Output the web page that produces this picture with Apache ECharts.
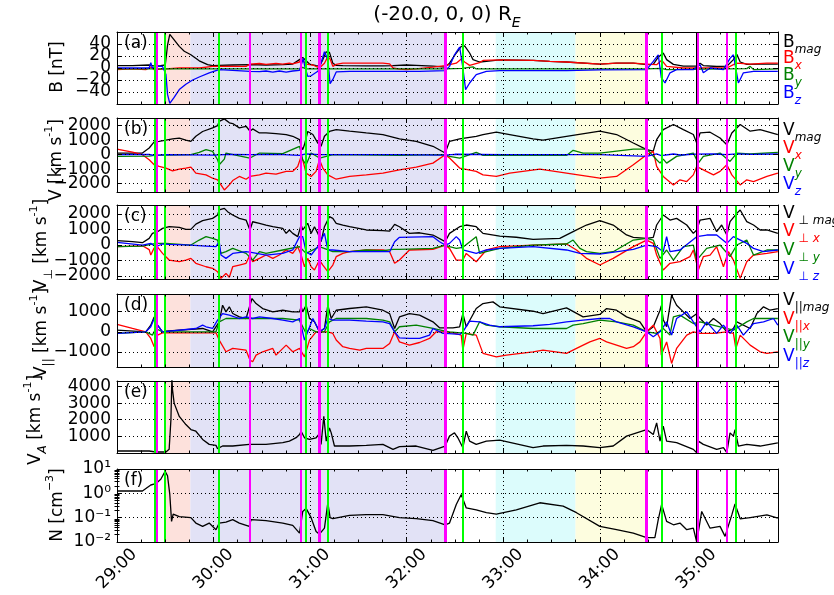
<!DOCTYPE html>
<html><head><meta charset="utf-8">
<script src="https://cdn.jsdelivr.net/npm/echarts@6/dist/echarts.min.js"></script>
<style>html,body{margin:0;padding:0;background:#fff}#c{width:834px;height:595px}</style>
</head><body><div id="c"></div>
<script>
// ---------- DATA (time = seconds after 29:00) ----------
const xMin = 0, xMax = 410.7;
const tickLabels = ['29:00','30:00','31:00','32:00','33:00','34:00','35:00'];

const greenLines = [23.5, 29.9, 63.5, 117.5, 131.2, 214.6, 338.2, 384.5];
const magentaLines = [25.0, 82.7, 114.2, 360.9, 378.9];
const magentaThick = [125.8, 204.0, 329.1];
const blackLines = [360];
const pinkSpan = [29.9, 45.6];
const lavenderSpan = [45.6, 204.0];
const cyanSpan = [235.3, 284.9];
const yellowSpan = [284.9, 329.1];

// (a) B [nT]
const bMag = [[0,4],[9.6,4],[20,5],[21,6],[22,4],[23.5,3],[27,4],[30,5],[31.4,38],[32.8,56],[34.9,49],[38.7,36],[41.8,28],[45.9,22],[51.1,12],[56.3,5.5],[59.4,4],[63.5,4.4],[71.9,5],[82.6,5.5],[92.6,5],[103,5.5],[109.2,6.6],[113.4,14],[115.4,17.5],[117.5,12],[119.6,6.6],[123.7,4],[125.8,3],[127.9,14],[130,27],[132,26],[134.1,8],[136.2,4.4],[140.3,4],[154.9,3.5],[165.2,3.5],[171.5,4],[179.8,5],[185.9,4.4],[196.3,3],[203.9,1.6],[206.6,8],[210.8,25],[213.9,36],[216,37],[219.1,25],[221.2,14],[225.3,10],[229.5,11],[237.8,13.7],[258.5,12.6],[268.9,11],[279.3,10],[300,6.6],[310.4,8],[320.8,8],[329.1,5.5],[333.2,6],[336.3,18],[339.4,25],[341.5,14],[345.7,6],[351.9,3],[360,3],[362.3,8],[364.3,4],[372.6,2.5],[378.9,3],[383,14],[385.1,23],[387.2,10],[391.3,6],[399.6,6.6],[410.6,6.6]];
const bx = [[0,-2.7],[9.6,-1.6],[17.9,-2.7],[21,1.6],[23.1,-2.7],[30.4,-1.6],[38.7,0],[51.1,0],[59.4,2.7],[71.9,2.7],[80.2,2.7],[82.6,6.6],[88.5,7.5],[92.6,6],[98.8,7.7],[103,6.6],[107.1,8],[109.2,7],[113.4,10],[114.4,16],[115.4,12],[117.5,6.6],[121.7,5],[125.8,0],[128.9,8],[131,19],[132.4,15],[134.1,2.7],[136.2,6],[140.3,8],[154.9,8],[165.2,8],[169.4,7],[171.5,0],[175.6,-2],[179.8,-2.7],[185.9,-1.6],[196.3,1.6],[203.9,4],[210.8,8],[213.9,15],[216,10],[219.1,4.4],[225.3,9],[227.4,12.6],[237.8,13.7],[258.5,12.6],[268.9,11],[279.3,10],[300,6.6],[310.4,8],[320.8,8],[329.1,6.6],[335.3,5.5],[338.4,13],[341.5,2.7],[351.9,0],[362.3,0],[372.6,0],[378.9,0],[383,5.5],[385.1,8],[393.4,6.6],[403.8,8],[410.6,8]];
const by = [[0,-1.6],[20,-1.6],[30,-1.6],[60,-1.6],[113.4,-1.6],[115.4,1],[117.5,-1.6],[131,-1.6],[175.6,-1.6],[203.9,-1.6],[214.5,-0.5],[221.2,2],[223.2,-1.6],[300,-1.6],[329.1,-1.6],[338.2,-0.5],[341.5,-2.7],[391.3,-1],[393.4,2.7],[395.5,-2.7],[410.6,-1.6]];
const bz = [[0,0],[9.6,0],[20,0],[21,9],[22,0],[25.2,2.7],[28.3,2.7],[30.4,-11],[31.4,-44],[32.8,-59],[35.5,-49],[38.7,-36],[42.8,-27],[47,-20],[51.1,-15],[57.3,-8],[61.5,-4.4],[63.5,-2.7],[71.9,-3.8],[82.6,-5.5],[88.5,-6],[92.6,-5],[96.8,-7],[100.9,-5],[105.1,-7],[109.2,-5],[113.4,-4],[115.8,16],[116.5,5],[118.5,-14],[120.6,-13],[124.8,-5.5],[125.8,0],[128.9,27],[131,14],[132.4,-26],[134.1,-19],[136.2,-6.6],[144.5,-5.5],[188,-5.5],[203.9,-4.4],[206.6,2.7],[209.7,22],[212.9,35],[214.9,0],[216.6,-36],[219.1,-25],[223.2,-11],[229.5,-5.5],[237.8,-4.4],[279.3,-4.4],[300,-3],[329.1,-2.7],[333.2,11],[336.3,22],[338.2,-16],[340.5,-25],[343.6,-8],[347.7,-2.7],[358.1,-2.7],[362.3,5.5],[364.3,-8],[368.5,0],[376.8,-2.7],[380.9,16],[383,22],[386.1,-25],[389.2,-8],[395.5,-5.5],[410.6,-5.5]];

// (b) V [km/s]
const vMag = [[0,115],[15.8,115],[20,460],[23.1,880],[26.2,920],[30.4,1000],[34.5,1085],[38.7,1150],[42.8,1000],[45.9,920],[49,1270],[53.2,1600],[59.4,1850],[62.5,2000],[63.5,2300],[66.7,2470],[69.8,2200],[71.9,2150],[76,1850],[80.2,1960],[82.6,1620],[84.3,1780],[88.5,1500],[92.6,1500],[98.8,1450],[105.1,1390],[109.2,1270],[113.4,1040],[114.4,580],[115.4,350],[116.5,700],[118.5,1600],[121.7,1390],[124.8,800],[126.8,580],[128.9,1270],[132,1600],[136.2,1730],[144.5,1620],[154.9,1500],[165.2,1390],[175.5,1085],[185.9,920],[196.3,580],[203.9,115],[206.6,920],[212.9,1085],[223.2,1270],[227.4,1390],[235.7,1550],[244,1390],[258.5,1085],[264.7,1000],[279.3,1270],[300,1620],[310.4,1390],[320.8,810],[329.1,350],[333.2,250],[335.3,1040],[339.4,1730],[345.7,2080],[351.9,1730],[358.1,1390],[360.2,810],[362.3,1500],[368.5,1550],[374.7,1150],[378.9,690],[382,1500],[387.2,2080],[393.4,1620],[399.6,1730],[410.6,1390]];
const vx = [[0,390],[9.6,185],[15.8,0],[20,-350],[23.1,-690],[26.2,-810],[30.4,-920],[34.5,-1110],[38.7,-1000],[42.8,-920],[45.9,-850],[49,-1270],[55.3,-1390],[59.4,-1620],[62.5,-1730],[64.6,-2080],[66.7,-2430],[69.8,-2080],[71.9,-1780],[76,-1500],[80.2,-1690],[82.6,-1500],[88.5,-1390],[92.6,-1270],[98.8,-1340],[105.1,-1150],[109.2,-1150],[112.3,-810],[114.4,-115],[115.4,-350],[117.5,-1270],[120.6,-1500],[123.7,-1150],[125.8,-350],[127.9,-920],[131,-1390],[136.2,-1690],[144.5,-1500],[154.9,-1390],[165.2,-1270],[175.5,-1040],[185.9,-850],[196.3,-580],[203.9,0],[206.6,-230],[212.9,-920],[223.2,-1150],[227.4,-1390],[235.7,-1500],[244,-1270],[262.7,-1000],[279.3,-1270],[300,-1620],[310.4,-1500],[320.8,-690],[329.1,0],[333.2,230],[335.3,-810],[339.4,-1500],[345.7,-2080],[349.8,-1730],[354,-1850],[358.1,-1390],[360.2,-810],[364.3,-1040],[370.6,-1390],[374.7,-1150],[378.9,-690],[382,-1390],[387.2,-2080],[391.3,-1730],[395.5,-1850],[403.8,-1500],[410.6,-1270]];
const vy = [[0,-115],[20,-100],[23.1,-50],[45.9,0],[47,115],[51.1,160],[55.3,350],[59.4,230],[62.5,-350],[63.5,-690],[66.7,-300],[67.7,115],[82.6,-230],[88.5,115],[103,70],[113.4,580],[115.4,-350],[117.5,-690],[120.6,115],[125.8,-230],[130,-115],[134.1,0],[175.5,-50],[203.9,0],[206.6,-115],[212.9,-230],[223.2,160],[227.4,-50],[237.8,-50],[279.3,-50],[283.4,300],[289.6,115],[300,115],[320.8,390],[329.1,390],[335.3,-350],[337.4,-580],[339.4,-300],[341.5,-580],[347.7,-115],[358.1,115],[361.2,-580],[364.3,-115],[374.7,115],[380.9,-460],[385.1,115],[393.4,50],[410.6,160]];
const vz = [[0,0],[20,20],[23.1,-40],[30,0],[60,-30],[70,20],[82.6,0],[100,20],[113.4,-50],[117.5,60],[125.8,0],[140,10],[175.5,0],[203.9,-30],[210,30],[240,0],[300,0],[329.1,-115],[335.3,50],[338.2,-60],[345.7,50],[350,-20],[360,40],[370,50],[378.9,0],[385,60],[395,20],[410.6,50]];

// (c) V perp [km/s]
const vpMag = [[0,280],[9.6,215],[15.8,150],[20,430],[22,750],[25.2,860],[28.3,1075],[32.4,1180],[38.7,1140],[42.8,1010],[45.9,1010],[49,1350],[53.2,1570],[59.4,1720],[62.5,1935],[63.5,2260],[66.7,2365],[68.7,2150],[71.9,1935],[76,1720],[80.2,1610],[82.6,970],[84.3,1500],[88.5,1400],[92.6,1290],[96.8,1180],[103,1075],[105.1,750],[107.1,970],[109.2,750],[112.3,540],[114.4,1290],[115.4,970],[118.5,1400],[120.6,750],[122.7,1180],[124.8,750],[126.8,215],[128.9,1180],[132,1830],[134.1,1720],[136.2,1400],[140.3,1290],[144.5,1180],[154.9,970],[165.2,925],[169.4,900],[172.5,1330],[175.5,1180],[181.7,750],[188,790],[196.3,645],[203.9,215],[206.6,750],[212.9,1180],[217,1290],[223.2,1180],[227.4,750],[237.8,580],[248.1,500],[258.5,365],[275.1,430],[283.4,860],[291.7,1290],[300,1570],[308.3,1290],[316.6,650],[320.8,495],[329.1,430],[333.2,495],[335.3,1290],[339.4,1935],[343.6,1610],[347.7,1720],[354,1290],[358.1,750],[360.2,970],[362.3,1610],[368.5,1720],[372.6,860],[375.7,1290],[378.9,645],[380.9,1505],[385.1,2040],[387.2,2260],[391.3,1505],[395.5,1290],[399.6,970],[403.8,970],[410.6,750]];
const vpx = [[0,-100],[15.8,-50],[20,-300],[21,-645],[23,-200],[25,-100],[28.3,-540],[32.4,-970],[38.7,-1075],[42.8,-970],[45.9,-860],[49,-1180],[55.3,-1400],[59.4,-1500],[62.5,-1720],[64.6,-2150],[67.7,-1830],[69.8,-2080],[71.9,-1400],[76,-1290],[80.2,-1180],[82.6,-645],[84.3,-1075],[88.5,-860],[92.6,-645],[96.8,-860],[100.9,-645],[105.1,-320],[109.2,-540],[112.3,-107],[114.4,-645],[116.5,-1400],[118.5,-860],[120.6,-1400],[122.7,-1610],[125.8,-970],[127.9,-1290],[131,-1720],[134.1,-1290],[136.2,-750],[140.3,-540],[144.5,-430],[154.9,-320],[165.2,-320],[169.4,-430],[172.5,-1180],[175.5,-970],[181.7,-320],[196.3,-280],[203.9,0],[206.6,-215],[210.8,-970],[214.9,-970],[217,-540],[223.2,-1075],[229.5,-320],[237.8,-107],[258.5,0],[279.3,65],[285.5,-320],[291.7,-860],[300,-1290],[308.3,-860],[320.8,-107],[329.1,320],[333.2,107],[335.3,-645],[339.4,-1610],[343.6,-1180],[349.8,-1075],[356,-750],[358.1,-320],[361.2,-1610],[364.3,-750],[368.5,-645],[372.6,-107],[376.8,-1400],[379.9,-430],[383,-970],[387.2,-2150],[391.3,-1075],[395.5,-645],[403.8,-540],[410.6,-430]];
const vpy = [[0,-107],[15.8,-65],[24.1,107],[30.4,107],[45.9,0],[51.1,320],[55.3,540],[59.4,430],[62.5,320],[64.6,-540],[67.7,-430],[71.9,-215],[80.2,-540],[84.3,-970],[88.5,-430],[92.6,-540],[103,-320],[113.4,-107],[117.5,-540],[125.8,-107],[134.1,-430],[144.5,-430],[154.9,-320],[165.2,-365],[171.5,-280],[175.5,-280],[196.3,-215],[203.9,0],[206.6,-107],[210.8,-215],[214.9,-150],[223.2,540],[225.3,-540],[229.5,-430],[237.8,-215],[258.5,0],[279.3,65],[283.4,320],[287.6,-215],[291.7,-430],[300,-540],[308.3,-430],[320.8,320],[329.1,430],[333.2,320],[337.4,-860],[341.5,-320],[345.7,-970],[351.9,-107],[358.1,0],[360.2,-970],[366.4,-215],[374.7,0],[380.9,-750],[385.1,0],[391.3,320],[395.5,-645],[403.8,-320],[410.6,-320]];
const vpz = [[0,170],[15.8,0],[21,107],[24.1,-107],[28.3,65],[32.4,43],[45.9,0],[55.3,-65],[61.5,-107],[63.5,215],[64.6,-645],[67.7,-860],[71.9,-540],[80.2,-430],[84.3,-495],[92.6,-645],[103,-540],[109.2,-320],[113.4,540],[115.4,540],[117.5,-430],[120.6,-645],[124.8,-107],[126.8,320],[128.9,750],[131,-320],[134.1,-320],[144.5,-430],[169.4,-430],[172.5,215],[175.5,495],[196.3,540],[200.4,215],[203.9,0],[206.6,107],[210.8,540],[212.9,320],[214.9,-320],[223.2,-540],[229.5,-320],[237.8,-215],[258.5,-107],[279.3,-320],[287.6,-540],[300,-580],[320.8,-280],[329.1,0],[335.3,-107],[339.4,-430],[341.5,540],[343.6,-430],[349.8,-320],[360.2,540],[366.4,645],[372.6,645],[378.9,107],[383,540],[391.3,107],[395.5,-215],[401.7,-430],[410.6,-320]];

// (d) V parallel [km/s]
const vlMag = [[0,80],[17.9,0],[21,330],[23.1,740],[25.2,330],[28.3,0],[30.4,30],[53.2,165],[59.4,0],[63.5,495],[65.6,1320],[67.7,990],[69.8,1240],[71.9,910],[76,740],[80.2,660],[82.6,1320],[83.9,1650],[86.4,1400],[90.5,1155],[96.8,990],[103,1070],[109.2,990],[113.4,990],[114.4,1240],[115.4,990],[117.5,1320],[119.6,660],[122.7,495],[125.8,0],[128.9,165],[131,1320],[133.1,660],[136.2,1070],[144.5,1155],[154.9,1240],[165.2,1070],[169.4,900],[172.5,165],[175.5,740],[181.7,900],[188,825],[196.3,495],[200.4,200],[203.9,200],[208.7,200],[212.9,250],[214.9,900],[217,250],[223.2,1155],[227.4,1400],[233.6,1485],[237.8,1240],[258.5,1020],[264.7,900],[279.3,1190],[289.6,740],[300,860],[304.2,1155],[310.4,1070],[316.6,740],[324.9,495],[329.1,0],[333.2,250],[337.4,1070],[338.2,1300],[339.4,600],[341.5,250],[344.6,1815],[347.7,1320],[351.9,990],[356,660],[360.2,900],[362.3,660],[366.4,330],[370.6,660],[374.7,410],[378.9,0],[383,165],[385.1,495],[393.4,165],[397.5,900],[401.7,1240],[405.8,1070],[410.6,1155]];
const vlx = [[0,363],[9.6,165],[17.9,0],[21,-330],[23.1,-740],[25.2,-165],[28.3,-50],[61.5,-50],[63.5,-410],[67.7,-990],[71.9,-825],[80.2,-910],[82.6,-1400],[84.3,-1485],[86.4,-1155],[90.5,-990],[96.8,-825],[98.8,-1155],[105.1,-660],[109.2,-990],[113.4,-825],[116.5,-1240],[119.6,-410],[123.7,0],[131,0],[134.1,-80],[136.2,-410],[140.3,-740],[144.5,-825],[150.8,-910],[154.9,-825],[165.2,-825],[169.4,-580],[172.5,0],[175.5,-500],[181.7,-660],[188,-530],[194.2,-330],[198.3,0],[203.9,0],[208.7,-50],[213.9,-165],[214.9,-910],[217,-80],[223.2,-165],[227.4,-1070],[235.7,-1240],[241.9,-1155],[258.5,-990],[264.7,-910],[279.3,-1070],[285.5,-825],[293.8,-500],[300,-330],[304.2,-500],[310.4,-660],[316.6,-825],[320.8,-740],[324.9,-500],[329.1,0],[333.2,330],[337.4,-330],[338.2,-1155],[341.5,-500],[344.6,-1570],[347.7,-825],[354,-165],[358.1,0],[362.3,-80],[370.6,-80],[378.9,0],[383,-80],[384.5,-825],[387.2,-165],[393.4,-660],[399.6,-990],[403.8,-1070],[410.6,-990]];
const vly = [[0,-80],[17.9,0],[22,-165],[24.1,165],[28.3,0],[61.5,0],[63.5,495],[67.7,660],[82.6,660],[103,660],[113.4,580],[114.4,410],[117.5,-80],[119.6,165],[123.7,0],[128.9,0],[132,495],[136.2,660],[154.9,660],[165.2,580],[169.4,495],[172.5,0],[175.5,250],[185.9,330],[196.3,165],[203.9,35],[206.6,0],[217,-80],[221.2,-165],[225.3,495],[229.5,330],[237.8,250],[258.5,165],[279.3,165],[283.4,330],[289.6,410],[300,580],[310.4,495],[320.8,330],[329.1,0],[335.3,-80],[339.4,165],[343.6,-165],[345.7,740],[349.8,825],[358.1,410],[362.3,495],[374.7,250],[383,80],[391.3,495],[395.5,660],[410.6,660]];
const vlz = [[0,-80],[17.9,0],[21,250],[23.1,660],[25.2,330],[28.3,0],[49,165],[53.2,330],[55.3,250],[59.4,165],[62.5,580],[65.6,900],[69.8,825],[76,660],[80.2,740],[84.3,660],[88.5,740],[96.8,660],[103,580],[109.2,495],[113.4,660],[116.5,-410],[118.5,0],[121.7,660],[125.8,0],[128.9,165],[131,660],[134.1,580],[144.5,580],[154.9,530],[165.2,495],[169.4,410],[172.5,0],[175.5,-300],[181.7,-330],[188,-330],[194.2,-165],[196.3,165],[202.5,-80],[203.9,-80],[212.9,-130],[214.9,0],[219.1,530],[225.3,495],[231.5,330],[237.8,250],[258.5,300],[268.9,365],[279.3,495],[289.6,580],[300,660],[306.2,660],[310.4,495],[320.8,250],[329.1,0],[333.2,-250],[337.4,0],[341.5,495],[344.6,-165],[347.7,660],[354,990],[358.1,495],[362.3,0],[366.4,495],[372.6,-80],[376.8,330],[380.9,-80],[385.1,330],[389.2,-165],[395.5,410],[401.7,495],[407.9,660],[410.6,330]];

// (e) V_A [km/s]
const vA = [[0,120],[20,120],[24.1,60],[30.4,60],[32.4,220],[33.5,2000],[34.1,4500],[34.5,3800],[35.5,3000],[38.7,2200],[42.8,1710],[45.9,1410],[49,1310],[53.2,815],[57.3,520],[61.5,460],[62.5,260],[65.6,420],[71.9,420],[82.2,520],[92.6,520],[103,620],[107.1,715],[109.2,815],[111.3,920],[113.4,1115],[114.4,1310],[116.5,915],[119.6,815],[123.7,915],[125.4,1115],[126.8,520],[128.5,2210],[130,715],[132,1510],[133.1,1210],[135.1,420],[144.5,420],[154.9,460],[165.2,520],[171.5,220],[175.5,380],[185.9,420],[196.3,160],[203.9,420],[206.6,1015],[209.7,1215],[211.8,915],[214.9,320],[217,1310],[219.1,715],[223.2,520],[229.5,715],[237.8,775],[258.5,320],[264.7,420],[279.3,460],[289.6,420],[300,320],[308.3,420],[316.6,1015],[329.1,1410],[333.2,1115],[335.3,1810],[337.4,715],[339.4,1610],[341.5,715],[347.7,620],[358.1,220],[360.2,20],[361.2,715],[364.3,520],[372.6,220],[376.8,320],[378.9,20],[380.9,1210],[383,1015],[384,1410],[386.1,420],[391.3,520],[399.6,420],[410.6,615]];

// (f) N [cm^-3]
const nDen = [[0,1.25],[15.8,1.25],[21,2.2],[24.1,2.5],[27.2,3.8],[29.9,8],[31.4,5.3],[32.8,0.9],[33.9,0.07],[34.9,0.14],[38.7,0.11],[45.9,0.1],[49,0.06],[53.2,0.044],[57.3,0.06],[61.5,0.032],[63.5,0.06],[67.7,0.065],[71.9,0.083],[76,0.06],[82.2,0.044],[83.3,0.083],[92.6,0.075],[103,0.06],[109.2,0.048],[113.4,0.023],[115.4,0.18],[117.5,0.24],[120.6,0.1],[123.7,0.027],[125.8,0.021],[128.9,0.037],[131,0.41],[132.4,0.1],[134.1,0.091],[144.5,0.125],[154.9,0.133],[165.2,0.133],[175.5,0.1],[185.9,0.091],[196.3,0.075],[203.9,0.051],[206.6,0.06],[210.8,0.35],[213.9,0.9],[217,0.25],[223.2,0.21],[229.5,0.16],[235.7,0.14],[248.1,0.21],[262.7,0.41],[277.2,0.3],[285.5,0.16],[300,0.044],[310.4,0.032],[320.8,0.023],[329.1,0.015],[334.2,0.015],[336.3,0.083],[338.4,0.35],[341.5,0.07],[345.7,0.051],[349.8,0.06],[354,0.032],[358.1,0.037],[360.2,0.01],[363.3,0.18],[368.5,0.037],[374.7,0.044],[377.8,0.017],[378.9,0.015],[382,0.13],[384,0.37],[387.2,0.09],[393.4,0.1],[403.8,0.13],[410.6,0.095]];

const logMinorTicks = [0.02,0.03,0.04,0.05,0.06,0.07,0.08,0.09,0.2,0.3,0.4,0.5,0.6,0.7,0.8,0.9,2,3,4,5,6,7,8,9];

// ---------- LAYOUT / STYLE ----------
const FONT = 'DejaVu Sans';
const colors = ['#000000', '#ff0000', '#008000', '#0000ff'];
const panels = [
  {tag:'(a)', top:32, height:72, min:-60, max:60, ticks:[-40,-20,0,20,40], lines:[bMag,bx,by,bz]},
  {tag:'(b)', top:118, height:74, min:-2570, max:2530, ticks:[-2000,-1000,0,1000,2000], lines:[vMag,vx,vy,vz]},
  {tag:'(c)', top:205, height:74, min:-2190, max:2580, ticks:[-2000,-1000,0,1000,2000], lines:[vpMag,vpx,vpy,vpz]},
  {tag:'(d)', top:294, height:73, min:-1745, max:1875, ticks:[-1000,0,1000], lines:[vlMag,vlx,vly,vlz]},
  {tag:'(e)', top:381, height:72, min:0, max:4330, ticks:[1000,2000,3000,4000], lines:[vA]},
  {tag:'(f)', top:469, height:73, log:true, min:0.01, max:10, lines:[nDen]}
];

const fmtNum = v => (v < 0 ? '\u2212' + Math.abs(v) : String(v));
const supMap = {'10':'10\u00b9','1':'10\u2070','0.1':'10\u207b\u00b9','0.01':'10\u207b\u00b2'};
const dotted = {color:'#000', width:1, type:[1,3]};
const labelBase = {show:true, fontSize:17, fontFamily:FONT, color:'#000', margin:6,
  showMinLabel:true, showMaxLabel:true, hideOverlap:false, interval:0};
const noLine = {show:false};

const grid = [], xAxis = [], yAxis = [], series = [];
panels.forEach((p, i) => {
  grid.push({left:117, right:56, top:p.top, height:p.height});
  const xBase = {type:'value', gridIndex:i, min:xMin, max:xMax, interval:60, z:5,
    axisLine:{show:true, onZero:false, lineStyle:{color:'#000', width:1}},
    axisTick:{show:true, inside:true, length:5, lineStyle:{color:'#000'}},
    minorTick:{show:true, splitNumber:4, length:2.5, lineStyle:{color:'#000'}}};
  xAxis.push(Object.assign({}, xBase, {position:'bottom',
    splitLine:{show:true, lineStyle:dotted},
    axisLabel: i === 5 ? {show:true, rotate:45, align:'center', verticalAlign:'middle', margin:27,
      fontSize:17, fontFamily:FONT, color:'#000', showMinLabel:true, showMaxLabel:true,
      formatter: v => tickLabels[Math.round(v/60)] || ''} : {show:false}}));
  xAxis.push(Object.assign({}, xBase, {position:'top', splitLine:{show:false}, axisLabel:{show:false}}));

  const yIdx = yAxis.length;
  if (!p.log) {
    const yBase = {type:'value', gridIndex:i, min:p.min, max:p.max, z:5,
      axisLine:{show:true, onZero:false, lineStyle:{color:'#000', width:1}},
      axisTick:{show:true, inside:true, length:5, customValues:p.ticks, lineStyle:{color:'#000'}}};
    yAxis.push(Object.assign({}, yBase, {position:'left', splitLine:{show:true, lineStyle:dotted}, axisLabel:{show:false}}));
    yAxis.push(Object.assign({}, yBase, {position:'right', splitLine:{show:false}, axisLabel:{show:false}}));
    // labels split over two label-only axes so none of them is auto-hidden
    [p.ticks.filter((v, k) => k % 2 === 0), p.ticks.filter((v, k) => k % 2 === 1)].forEach(sub => {
      yAxis.push({type:'value', gridIndex:i, min:p.min, max:p.max, position:'left', z:5,
        axisLine:noLine, axisTick:noLine, splitLine:noLine,
        axisLabel:Object.assign({}, labelBase, {customValues:sub, formatter:fmtNum})});
    });
  } else {
    const yBase = {type:'log', logBase:10, gridIndex:i, min:p.min, max:p.max, z:5,
      axisLine:{show:true, onZero:false, lineStyle:{color:'#000', width:1}},
      axisTick:{show:true, inside:true, length:5, lineStyle:{color:'#000'}}};
    yAxis.push(Object.assign({}, yBase, {position:'left', splitLine:{show:true, lineStyle:dotted},
      axisLabel:Object.assign({}, labelBase, {formatter: v => supMap[String(+v.toPrecision(3))] || ''})}));
    yAxis.push(Object.assign({}, yBase, {position:'right', splitLine:{show:false}, axisLabel:{show:false}}));
    yAxis.push(Object.assign({}, yBase, {position:'left', axisLine:noLine, splitLine:noLine, axisLabel:{show:false},
      axisTick:{show:true, inside:true, length:2.5, customValues:logMinorTicks, lineStyle:{color:'#000'}}}));
    yAxis.push(Object.assign({}, yBase, {position:'right', axisLine:noLine, splitLine:noLine, axisLabel:{show:false},
      axisTick:{show:true, inside:true, length:2.5, customValues:logMinorTicks, lineStyle:{color:'#000'}}}));
  }
  // shaded spans
  series.push({type:'line', xAxisIndex:2*i, yAxisIndex:yIdx, data:[], z:1, silent:true, animation:false,
    markArea:{silent:true, animation:false, data:[
      [{xAxis:pinkSpan[0], itemStyle:{color:'#fde1dc'}}, {xAxis:pinkSpan[1]}],
      [{xAxis:lavenderSpan[0], itemStyle:{color:'#e2e2f6'}}, {xAxis:lavenderSpan[1]}],
      [{xAxis:cyanSpan[0], itemStyle:{color:'#dcfcfc'}}, {xAxis:cyanSpan[1]}],
      [{xAxis:yellowSpan[0], itemStyle:{color:'#fdfddf'}}, {xAxis:yellowSpan[1]}]
    ]}});
  // data lines
  p.lines.forEach((d, k) => {
    series.push({type:'line', xAxisIndex:2*i, yAxisIndex:yIdx, data:d, showSymbol:false, symbol:'none',
      z:2, silent:true, animation:false, clip:true,
      lineStyle:{color:colors[k], width:1.3}, itemStyle:{color:colors[k]}});
  });
  // event lines
  const ml = [];
  greenLines.forEach(v => ml.push({xAxis:v, lineStyle:{color:'#00ff00', width:2, type:'solid'}}));
  magentaLines.forEach(v => ml.push({xAxis:v, lineStyle:{color:'#ff00ff', width:2, type:'solid'}}));
  magentaThick.forEach(v => ml.push({xAxis:v, lineStyle:{color:'#ff00ff', width:3, type:'solid'}}));
  blackLines.forEach(v => ml.push({xAxis:v, lineStyle:{color:'#000000', width:1, type:'solid'}}));
  series.push({type:'line', xAxisIndex:2*i, yAxisIndex:yIdx, data:[], z:3, silent:true, animation:false,
    markLine:{silent:true, animation:false, symbol:['none','none'], label:{show:false}, data:ml}});
});

// ---------- TEXT (title, legends, axis names, panel tags) ----------
function rich(c) {
  return {
    m:{fill:c, fontSize:17, fontFamily:FONT, lineHeight:26},
    s:{fill:c, fontSize:12, fontFamily:FONT, fontStyle:'italic', lineHeight:12, verticalAlign:'bottom'},
    p:{fill:c, fontSize:12, fontFamily:FONT, lineHeight:12, verticalAlign:'bottom'},
    u:{fill:c, fontSize:11, fontFamily:FONT, lineHeight:11, verticalAlign:'top'}
  };
}
const graphic = [];
function txt(x, y, text, opt) {
  opt = opt || {};
  graphic.push({type:'text', x:x, y:y, rotation:opt.rot || 0, silent:true, z:20,
    style:{x:0, y:0, text:text, rich:rich(opt.color || '#000'), fill:opt.color || '#000',
      fontSize:opt.size || 17, fontFamily:FONT, align:opt.align || 'left', verticalAlign:'middle'}});
}
// title
graphic.push({type:'text', x:447, y:15, silent:true, z:20, style:{x:0, y:0,
  text:'{t|(-20.0, 0, 0) R}{e|E}', align:'center', verticalAlign:'middle',
  rich:{t:{fill:'#000', fontSize:20, fontFamily:FONT, lineHeight:30},
        e:{fill:'#000', fontSize:14, fontFamily:FONT, fontStyle:'italic', lineHeight:14, verticalAlign:'bottom'}}}});
// legends
const legendA = [['B','mag'],['B','x'],['B','y'],['B','z']];
const legendB = [['V','mag'],['V','x'],['V','y'],['V','z']];
const legendYa = [42.7, 58.5, 75.5, 94];
const legendYb = [131, 149, 167, 185];
const legendYc = [214, 232, 251, 270];
const legendYd = [301, 320, 338, 357];
legendA.forEach((l, k) => txt(783, legendYa[k], '{m|' + l[0] + '}{s|' + l[1] + '}', {color:colors[k]}));
legendB.forEach((l, k) => txt(783, legendYb[k], '{m|' + l[0] + '}{s|' + l[1] + '}', {color:colors[k]}));
legendB.forEach((l, k) => txt(783, legendYc[k], '{m|V}{p| \u22a5 }{s|' + l[1] + '}', {color:colors[k]}));
legendB.forEach((l, k) => txt(783, legendYd[k], '{m|V}{p|||}{s|' + l[1] + '}', {color:colors[k]}));
// y-axis names
const R90 = Math.PI / 2;
txt(58, 67, '{m|B [nT]}', {rot:R90, align:'center'});
txt(57, 160, '{m|V [km s}{u|-1}{m|]}', {rot:R90, align:'center'});
txt(42, 245, '{m|V}{p|\u22a5}{m| [km s}{u|-1}{m|]}', {rot:R90, align:'center'});
txt(42, 333, '{m|V}{p|||}{m| [km s}{u|-1}{m|]}', {rot:R90, align:'center'});
txt(36, 420, '{m|V}{s|A}{m| [km s}{u|-1}{m|]}', {rot:R90, align:'center'});
txt(58, 505, '{m|N [cm}{u|\u22123}{m|]}', {rot:R90, align:'center'});
// panel tags
panels.forEach(p => txt(124, p.top + 12, '{m|' + p.tag + '}'));

const chart = echarts.init(document.getElementById('c'), null, {renderer:'canvas'});
chart.setOption({animation:false, backgroundColor:'#fff', grid, xAxis, yAxis, series, graphic});
</script>
</body></html>
